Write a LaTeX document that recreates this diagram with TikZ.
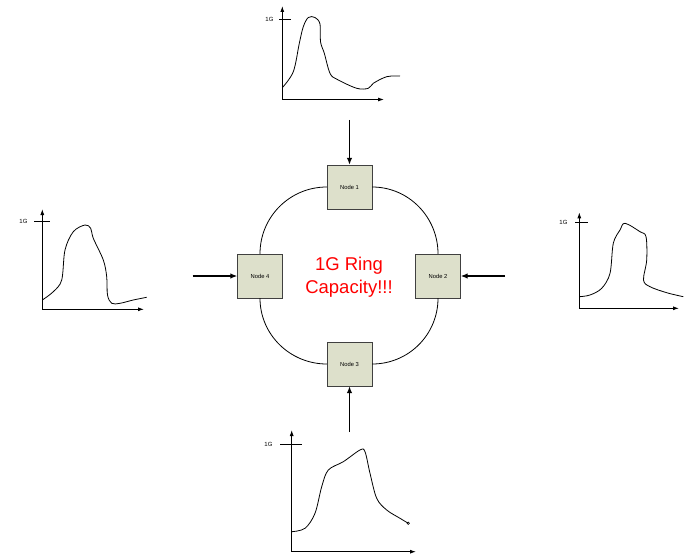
\documentclass[tikz,border=0pt]{standalone}
\usepackage{fontspec}
\setmainfont{Liberation Sans}
\usetikzlibrary{arrows.meta}

\tikzset{
    ringnode/.style={draw=black!75, fill=ringfill, minimum width=45pt, minimum height=44pt, inner sep=0pt, font=\fontsize{5.8}{6}\selectfont},
    feed/.style={-{Latex[length=7pt,width=5.5pt]}, line width=1.3pt},
    axis/.style={-{Latex[length=6pt,width=4pt]}, line width=0.9pt},
    traffic/.style={line width=0.8pt, smooth, tension=0.55},
    ticklabel/.style={font=\fontsize{6}{6}\selectfont, anchor=east}
}
\definecolor{ringfill}{RGB}{221,224,203}

\begin{document}
\begin{tikzpicture}[x=1pt, y=-1pt]
    \useasboundingbox (0,0) rectangle (692,556);

    % Ring nodes
    \node[ringnode] (n1) at (349.5,187) {Node 1};
    \node[ringnode] (n2) at (438,276) {Node 2};
    \node[ringnode] (n3) at (349.5,364) {Node 3};
    \node[ringnode] (n4) at (260,276) {Node 4};

    % Ring
    \draw[line width=0.8pt] (n1.east) to[out=0, in=90] (n2.north);
    \draw[line width=0.8pt] (n2.south) to[out=-90, in=0] (n3.east);
    \draw[line width=0.8pt] (n3.west) to[out=180, in=-90] (n4.south);
    \draw[line width=0.8pt] (n4.north) to[out=90, in=180] (n1.west);

    % Capacity text
    \node[red, align=center, font=\fontsize{18.5}{23}\selectfont] (cap) at (349,277) {1G Ring\\Capacity!!!};

    % Traffic entering the ring
    \coordinate (in1) at (349.5,120);
    \coordinate (in2) at (505,276);
    \coordinate (in3) at (349.5,432);
    \coordinate (in4) at (192.5,276);
    \draw[feed] (in1) -- (n1.north);
    \draw[feed] (in2) -- (n2.east);
    \draw[feed] (in3) -- (n3.south);
    \draw[feed] (in4) -- (n4.west);

    % Top graph
    \draw[axis] (282.3,99.5) -- (282.3,6);
    \draw[axis] (282.3,99.5) -- (384,99.5);
    \draw[line width=0.8pt] (279,19) -- (291,19);
    \node[ticklabel] (g1) at (277,19) {1G};
    \draw[traffic] plot coordinates {(282.3,87.7) (293.3,71.7) (299.3,43.3) (303.3,26.7) (308.3,17.5) (315,17.5) (320,24) (320.5,41.7) (324.3,53.3) (330,73.3) (337,79.3) (356.7,88.3) (368.3,88.3) (373.3,83.3) (386.7,76.7) (400,76)};

    % Left graph
    \draw[axis] (42.3,309.3) -- (42.3,209);
    \draw[axis] (42.3,309.3) -- (144,309.3);
    \draw[line width=0.8pt] (34.3,221) -- (50,221);
    \node[ticklabel] (g4) at (31,221) {1G};
    \draw[traffic] plot coordinates {(42.3,300) (53.3,291.7) (61.7,280) (65,250) (73.3,231.7) (85,225) (90.7,228.3) (93.3,238.3) (103.3,260) (106.7,276.7) (107.5,295) (111.7,303.3) (120,303.3) (133.3,300) (146.7,297.3)};

    % Right graph
    \draw[axis] (579.3,308.3) -- (579.3,212.3);
    \draw[axis] (579.3,308.3) -- (679,308.3);
    \draw[line width=0.8pt] (575,222.7) -- (587.7,222.7);
    \node[ticklabel] (g2) at (571,222.7) {1G};
    \draw[traffic] plot coordinates {(579.3,296.7) (590,295) (601.7,288.3) (610,273.3) (613.3,243.3) (620,230) (625,223.3) (640,231.7) (646,236.7) (646.7,260) (643.5,280) (650,286.7) (666.7,292.7) (683.3,296.7)};

    % Bottom graph
    \draw[axis] (291.7,551.7) -- (291.7,430);
    \draw[axis] (291.7,551.7) -- (416,551.7);
    \draw[line width=0.8pt] (280,444) -- (301.7,444);
    \node[ticklabel] (g3) at (276,444) {1G};
    \draw[traffic] plot coordinates {(291.7,531.7) (305,528.3) (315,513.3) (321.7,486.7) (328.3,470) (343.3,461.7) (360,450) (365,451.7) (370,473.3) (376.7,498.3) (386.7,510) (400,518.3) (408.3,523.3)};
    \draw[line width=0.6pt] (408.3,523.3) circle (1.2pt);

\end{tikzpicture}
\end{document}
